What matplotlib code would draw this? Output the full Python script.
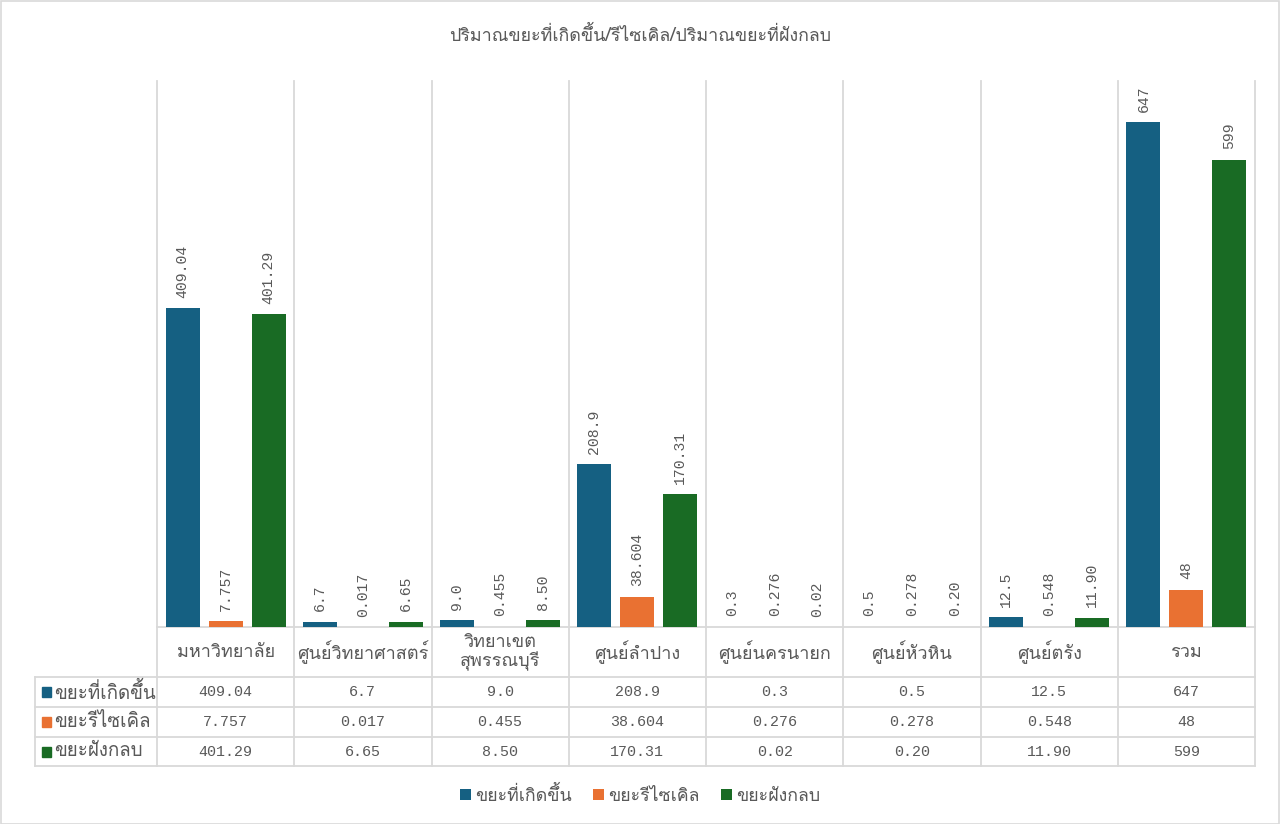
import matplotlib
matplotlib.use("Agg")
import matplotlib.pyplot as plt
from matplotlib.patches import Patch, Rectangle
from matplotlib.lines import Line2D
import numpy as np

THAI = ["Loma", "DejaVu Sans"]
MONO = ["Liberation Mono", "Loma", "DejaVu Sans"]
plt.rcParams["font.family"] = THAI

title = "ปริมาณขยะที่เกิดขึ้น/รีไซเคิล/ปริมาณขยะที่ฝังกลบ"
categories = ["มหาวิทยาลัย", "ศูนย์วิทยาศาสตร์", "วิทยาเขต\nสุพรรณบุรี", "ศูนย์ลำปาง",
              "ศูนย์นครนายก", "ศูนย์หัวหิน", "ศูนย์ตรัง", "รวม"]
series_names = ["ขยะที่เกิดขึ้น", "ขยะรีไซเคิล", "ขยะฝังกลบ"]
generated = [409.04, 6.7, 9.0, 208.9, 0.3, 0.5, 12.5, 647]
recycled = [7.757, 0.017, 0.455, 38.604, 0.276, 0.278, 0.548, 48]
landfill = [401.29, 6.65, 8.50, 170.31, 0.02, 0.20, 11.90, 599]
generated_lbl = ["409.04", "6.7", "9.0", "208.9", "0.3", "0.5", "12.5", "647"]
recycled_lbl = ["7.757", "0.017", "0.455", "38.604", "0.276", "0.278", "0.548", "48"]
landfill_lbl = ["401.29", "6.65", "8.50", "170.31", "0.02", "0.20", "11.90", "599"]
colors = ["#156082", "#E97132", "#196B24"]

series = [generated, recycled, landfill]
labels = [generated_lbl, recycled_lbl, landfill_lbl]

W, H = 1280, 824
fig = plt.figure(figsize=(W / 100, H / 100), dpi=100)
L, R, T, B = 157, 1255, 81, 627
ax = fig.add_axes([L / W, 1 - B / H, (R - L) / W, (B - T) / H])
ax.set_xlim(-0.5, len(categories) - 0.5)
ax.set_ylim(0, 700)
ax.axis("off")

TXT = "#595959"
GRID = "#D9D9D9"
THAI_FS = 13.5
HEAD_FS = 13.0
NUM_FS = 10.8
x = np.arange(len(categories))
bw = 0.248
off = 0.313
for i, (vals, lbls, c) in enumerate(zip(series, labels, colors)):
    xs = x + (i - 1) * off
    ax.bar(xs, vals, width=bw, color=c, zorder=3)
    for xi, v, s in zip(xs, vals, lbls):
        ax.annotate(s, (xi, v), xytext=(0, 7.5), textcoords="offset points",
                    rotation=90, ha="center", va="bottom", fontsize=NUM_FS - 0.2,
                    color=TXT, family=MONO, zorder=4)

def fy(p):
    return (B - p) / (B - T)

def fx(p):
    return (p - L) / (R - L)

tr = ax.transAxes
lw = 1.3
rows_y = [677, 707, 737, 766]
for k in range(len(categories) + 1):
    xb = k / len(categories)
    ax.add_line(Line2D([xb, xb], [fy(T), fy(rows_y[-1])], transform=tr, color=GRID, lw=lw, clip_on=False, zorder=1))
ax.add_line(Line2D([fx(35), fx(35)], [fy(rows_y[0]), fy(rows_y[-1])], transform=tr, color=GRID, lw=lw, clip_on=False))
ax.add_line(Line2D([0, 1], [0, 0], transform=tr, color=GRID, lw=lw, clip_on=False, zorder=2))
for yy in rows_y:
    ax.add_line(Line2D([fx(35), 1], [fy(yy), fy(yy)], transform=tr, color=GRID, lw=lw, clip_on=False))

for k, cat in enumerate(categories):
    ax.text((k + 0.5) / len(categories), fy(652), cat, transform=tr, ha="center", va="center",
            fontsize=HEAD_FS, color=TXT, linespacing=1.02)
row_centers = [692, 722, 751.5]
for r, (name, lbls, c) in enumerate(zip(series_names, labels, colors)):
    yc = fy(row_centers[r])
    ax.add_patch(Rectangle((fx(42), yc - 5 / (B - T)), 9 / (R - L), 10 / (B - T), transform=tr,
                           color=c, clip_on=False))
    ax.text(fx(54), yc, name, transform=tr, ha="left", va="center", fontsize=THAI_FS, color=TXT)
    for k, s in enumerate(lbls):
        ax.text((k + 0.5) / len(categories), yc, s, transform=tr, ha="center", va="center",
                fontsize=NUM_FS, color=TXT, family=MONO)

fig.text(0.5, 1 - 35 / H, title, ha="center", va="center", fontsize=12.9, color=TXT)

handles = [Patch(facecolor=c, edgecolor="none") for c in colors]
fig.legend(handles, series_names, loc="center", bbox_to_anchor=(0.5, 1 - 795 / H), ncol=3,
           frameon=False, fontsize=12.8, labelcolor=TXT, handlelength=0.6, handleheight=0.6,
           handletextpad=0.25, columnspacing=1.2)

fig.add_artist(Rectangle((0.5 / W, 0.5 / H), 1 - 1.5 / W, 1 - 1.5 / H, transform=fig.transFigure,
                         fill=False, edgecolor=GRID, lw=1.2))
fig.savefig("out.png", dpi=100)
